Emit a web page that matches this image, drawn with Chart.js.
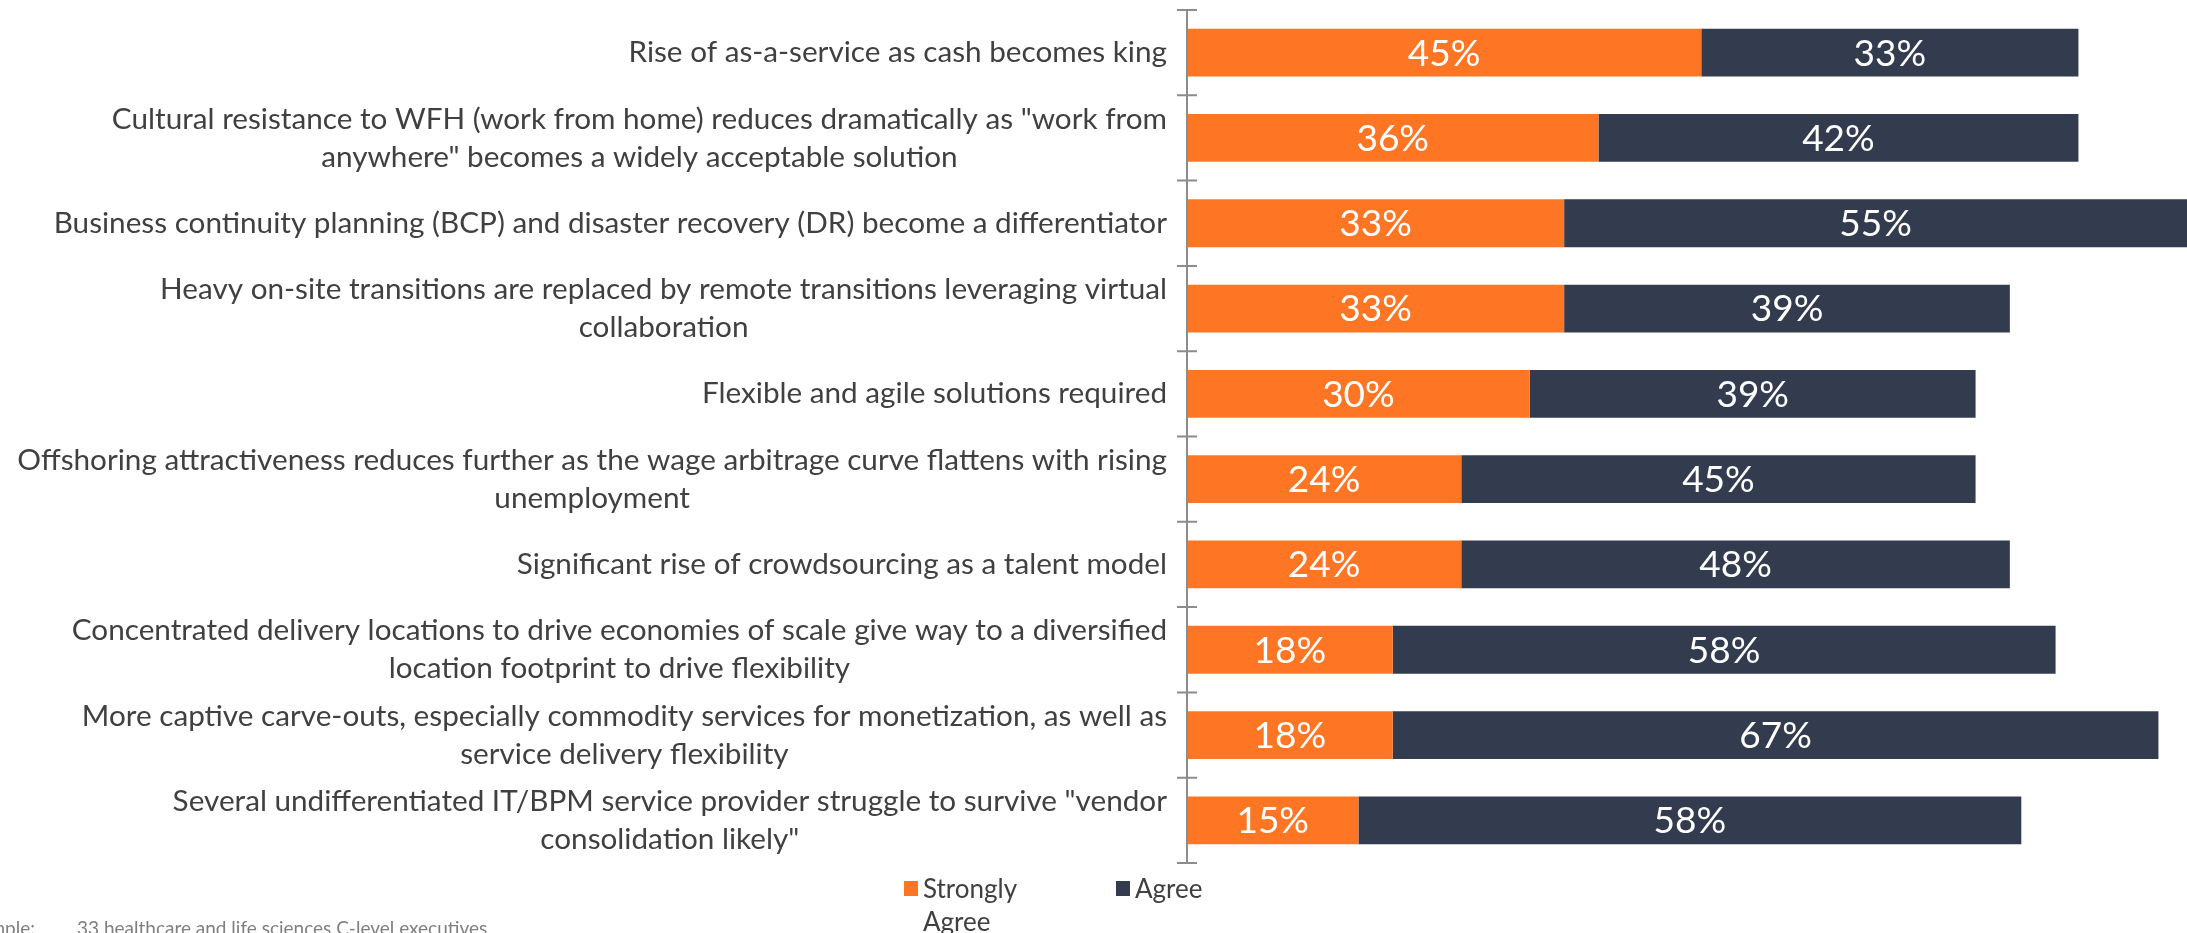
<!DOCTYPE html>
<html>
<head>
<meta charset="utf-8">
<script src="https://cdn.jsdelivr.net/npm/chart.js@4.4.1/dist/chart.umd.min.js"></script>
<style>
    html, body { margin: 0; padding: 0; background: #fff; overflow: hidden; }
    #wrap { position: relative; width: 2187px; height: 933px; overflow: hidden; }
    #chart { position: absolute; left: 0; top: 0; }
    #legend { position: absolute; left: 904px; top: 872px; display: flex;
              font-family: Lato, "Noto Sans", sans-serif; font-size: 26px; line-height: 33px; color: #404040; }
    .item { display: flex; align-items: flex-start; width: 212px; }
    .box { width: 14px; height: 15px; margin-top: 9px; margin-right: 5px; flex: none; }
    .txt { width: 100px; }
    .note { position: absolute; top: 918px; font-family: Lato, "Noto Sans", sans-serif; font-size: 19px;
            line-height: 19px; color: #7f7f7f; white-space: nowrap; }
</style>
</head>
<body>
<div id="wrap">
    <canvas id="chart" width="2187" height="933"></canvas>
    <div id="legend"></div>
    <div class="note" style="right: 2152px;">Sample:</div>
    <div class="note" style="left: 77px;">33 healthcare and life sciences C-level executives</div>
</div>
<script>
const categories = [
    'Rise of as-a-service as cash becomes king',
    ['Cultural resistance to WFH (work from home) reduces dramatically as "work from', 'anywhere" becomes a widely acceptable solution'],
    'Business continuity planning (BCP) and disaster recovery (DR) become a differentiator',
    ['Heavy on-site transitions are replaced by remote transitions leveraging virtual', 'collaboration'],
    'Flexible and agile solutions required',
    ['Offshoring attractiveness reduces further as the wage arbitrage curve flattens with rising', 'unemployment'],
    'Significant rise of crowdsourcing as a talent model',
    ['Concentrated delivery locations to drive economies of scale give way to a diversified', 'location footprint to drive flexibility'],
    ['More captive carve-outs, especially commodity services for monetization, as well as', 'service delivery flexibility'],
    ['Several undifferentiated IT/BPM service provider struggle to survive "vendor', 'consolidation likely"']
];
const stronglyAgree = [45, 36, 33, 33, 30, 24, 24, 18, 18, 15];
const agree = [33, 42, 55, 39, 39, 45, 48, 58, 67, 58];
const seriesNames = ['Strongly Agree', 'Agree'];

const ORANGE = '#FE7624';
const NAVY = '#333B4F';
const FONT = 'Lato, "Noto Sans", sans-serif';

// category labels: block right aligned, lines centered within the block
const yLabels = {
    id: 'yLabels',
    afterDraw(chart) {
        const ctx = chart.ctx;
        const y = chart.scales.y;
        const right = chart.chartArea.left - 20;
        const lineH = 38;
        ctx.save();
        ctx.font = '29.7px ' + FONT;
        ctx.fillStyle = '#404040';
        ctx.textAlign = 'center';
        ctx.textBaseline = 'middle';
        categories.forEach((lab, i) => {
            const lines = Array.isArray(lab) ? lab : [lab];
            const w = Math.max(...lines.map(l => ctx.measureText(l).width));
            const cx = right - w / 2;
            const y0 = y.getPixelForValue(i) - (lines.length - 1) * lineH / 2;
            lines.forEach((l, k) => ctx.fillText(l, cx, y0 + k * lineH));
        });
        ctx.restore();
    }
};

// vertical axis line with ticks crossing it between categories
const axisLine = {
    id: 'axisLine',
    afterDatasetsDraw(chart) {
        const ctx = chart.ctx;
        const y = chart.scales.y;
        const left = chart.chartArea.left;
        const half = (y.getPixelForValue(1) - y.getPixelForValue(0)) / 2;
        ctx.save();
        ctx.strokeStyle = '#8C8C8C';
        ctx.lineWidth = 2;
        ctx.beginPath();
        ctx.moveTo(left, y.getPixelForValue(0) - half);
        ctx.lineTo(left, y.getPixelForValue(categories.length - 1) + half);
        for (let i = 0; i <= categories.length; i++) {
            const py = y.getPixelForValue(i) - half;
            ctx.moveTo(left - 10, py);
            ctx.lineTo(left + 10, py);
        }
        ctx.stroke();
        ctx.restore();
    }
};

const valueLabels = {
    id: 'valueLabels',
    afterDatasetsDraw(chart) {
        const ctx = chart.ctx;
        const area = chart.chartArea;
        ctx.save();
        ctx.font = '37px ' + FONT;
        ctx.fillStyle = '#ffffff';
        ctx.textAlign = 'center';
        ctx.textBaseline = 'middle';
        chart.data.datasets.forEach((ds, di) => {
            chart.getDatasetMeta(di).data.forEach((bar, j) => {
                const p = bar.getProps(['x', 'y', 'base'], true);
                const x1 = Math.min(p.x, area.right);
                ctx.fillText(ds.data[j] + '%', (p.base + x1) / 2, p.y + 1);
            });
        });
        ctx.restore();
    }
};

const chart = new Chart(document.getElementById('chart'), {
    type: 'bar',
    data: {
        labels: categories,
        datasets: [
            { label: seriesNames[0], data: stronglyAgree, backgroundColor: ORANGE },
            { label: seriesNames[1], data: agree, backgroundColor: NAVY }
        ]
    },
    options: {
        indexAxis: 'y',
        responsive: false,
        animation: false,
        layout: { padding: { top: 10, bottom: 70, left: 0, right: 0 } },
        datasets: { bar: { categoryPercentage: 1, barPercentage: 0.56 } },
        scales: {
            x: { stacked: true, display: false, min: 0, max: 87.5 },
            y: {
                stacked: true,
                grid: { display: false },
                border: { display: false },
                ticks: { display: false },
                afterFit(scale) { scale.width = 1187; }
            }
        },
        plugins: {
            legend: { display: false },
            tooltip: { enabled: false }
        }
    },
    plugins: [yLabels, axisLine, valueLabels]
});

// legend below the plot, built from the datasets
const legend = document.getElementById('legend');
chart.data.datasets.forEach(ds => {
    const item = document.createElement('div');
    item.className = 'item';
    const box = document.createElement('div');
    box.className = 'box';
    box.style.background = ds.backgroundColor;
    const txt = document.createElement('div');
    txt.className = 'txt';
    txt.innerText = ds.label;
    item.appendChild(box);
    item.appendChild(txt);
    legend.appendChild(item);
});
</script>
</body>
</html>
